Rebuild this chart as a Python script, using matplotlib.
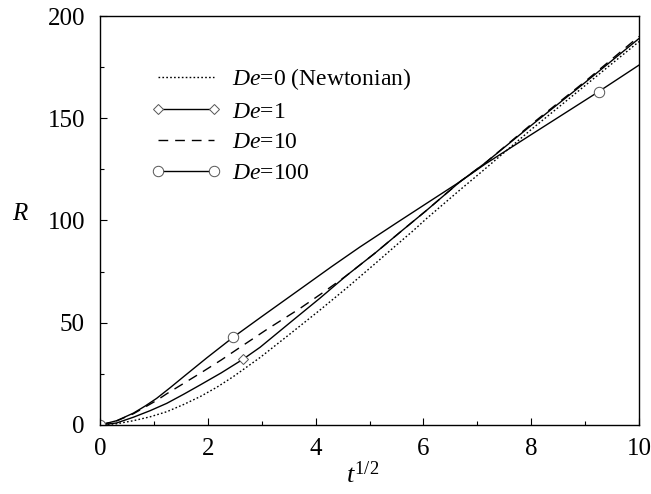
import matplotlib
matplotlib.use("Agg")
import matplotlib.pyplot as plt

plt.rcParams['font.family'] = ['Liberation Serif', 'DejaVu Serif']
plt.rcParams['mathtext.fontset'] = 'custom'
plt.rcParams['mathtext.rm'] = 'Liberation Serif'
plt.rcParams['mathtext.it'] = 'Liberation Serif:italic'

# ---- data (t^{1/2}, R) ----
t_de0 = [0, 0.31, 0.62, 0.93, 1.24, 1.55, 1.86, 2.17, 2.47, 2.97, 3.5, 4.08,
         4.6, 5.13, 5.5, 5.81, 6.06, 6.68, 7.11, 8, 9, 10]
r_de0 = [0, 0.6, 2.1, 4.0, 6.5, 10, 13.9, 18.5, 23.6, 33, 44, 56.2,
         67.5, 79.5, 88, 95, 101, 115, 124.5, 144.5, 166, 187.5]

t_de1 = [0, 0.31, 0.62, 0.93, 1.24, 1.55, 1.86, 2.25, 2.65, 2.97, 3.5, 4.08,
         4.57, 5.1, 5.6, 6.06, 6.68, 7.14, 8, 9, 10]
r_de1 = [0, 1.0, 3.8, 7.0, 10.6, 15, 19.6, 25.5, 32.1, 38, 49.5, 62,
         73, 84, 95, 105, 119, 128, 146.5, 167.5, 189]
m_de1 = [0, 2.65]

t_de10 = [0, 0.31, 0.62, 1.05, 1.24, 1.55, 1.86, 2.25, 2.6, 3.1, 3.71, 4.15,
          4.57, 5.1, 5.6, 6.06, 6.68, 7.14, 8, 9, 10]
r_de10 = [0, 2.0, 5.5, 12, 15.3, 20.3, 25.3, 31.8, 38, 46.8, 57, 65,
          73, 84, 95, 105, 119, 128, 147, 168, 190]

t_de100 = [0, 0.31, 0.62, 0.84, 1.05, 1.3, 1.55, 1.98, 2.47, 3.0, 3.77, 4.3, 4.82,
           5.5, 6.06, 6.68, 7.14, 8, 9.25, 10]
r_de100 = [0, 2.1, 5.8, 9.3, 13.0, 18.2, 23.6, 32.8, 42.9, 53, 67.5, 77.5, 87.0,
           98.8, 108.4, 119, 127.5, 142, 163, 176]
m_de100 = [0, 2.47, 9.25]

labels = [r'$\mathit{De}$=0 (Newtonian)', r'$\mathit{De}$=1',
          r'$\mathit{De}$=10', r'$\mathit{De}$=100']

fig = plt.figure(figsize=(6.51, 4.94), dpi=100)
ax = fig.add_axes([0.1536, 0.1397, 0.8280, 0.8279])

lw = 1.0
ax.plot(t_de0, r_de0, color='black', lw=lw, linestyle=(0, (1.2, 1.6)), label=labels[0])
idx1 = [t_de1.index(v) for v in m_de1]
ax.plot(t_de1, r_de1, color='black', lw=lw, marker='D', markersize=5,
        markerfacecolor='white', markeredgecolor='#555555', markeredgewidth=0.7,
        markevery=idx1, label=labels[1])
ax.plot(t_de10, r_de10, color='black', lw=lw, linestyle=(0, (7, 5)), label=labels[2])
idx100 = [t_de100.index(v) for v in m_de100]
ax.plot(t_de100, r_de100, color='black', lw=lw, marker='o', markersize=7.5,
        markerfacecolor='white', markeredgecolor='#555555', markeredgewidth=0.7,
        markevery=idx100, label=labels[3])

ax.set_xlim(0, 10)
ax.set_ylim(0, 200)
ax.set_xticks([0, 2, 4, 6, 8, 10])
ax.set_xticks([1, 3, 5, 7, 9], minor=True)
ax.set_yticks([0, 50, 100, 150, 200])
ax.set_yticks([25, 75, 125, 175], minor=True)
ax.tick_params(which='both', direction='in', top=False, right=False,
               labelsize=18, width=0.8)
ax.tick_params(which='major', length=5)
ax.tick_params(which='minor', length=3)
ax.tick_params(axis='x', which='major', pad=9.4)
ax.tick_params(axis='y', which='major', pad=10.8)
for s in ax.spines.values():
    s.set_linewidth(1.0)

ax.set_xlabel(r'$t^{\mathrm{1/2}}$', fontsize=19)
ax.xaxis.set_label_coords(0.488, -0.088)
ax.set_ylabel(r'$R$', fontsize=18, rotation=0, ha='center', va='center')
ax.yaxis.set_label_coords(-0.148, 0.515)

leg = ax.legend(loc='upper left', bbox_to_anchor=(0.095, 0.878), frameon=False,
                fontsize=17, handlelength=2.97, handletextpad=0.47,
                labelspacing=0.39, numpoints=2, borderaxespad=0, borderpad=0)

fig.savefig('out.png', dpi=100)
